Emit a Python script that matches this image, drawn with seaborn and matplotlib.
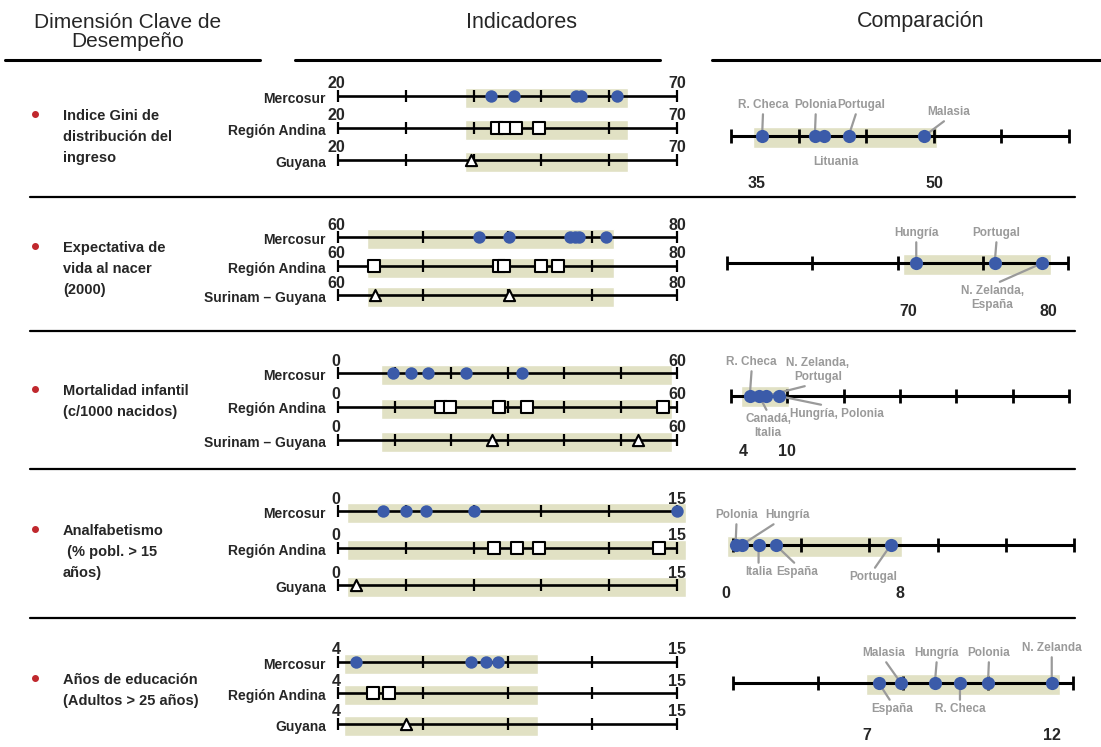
import matplotlib
matplotlib.use("Agg")
import matplotlib.pyplot as plt
import seaborn as sns
from matplotlib.lines import Line2D

sns.set_style("white")
plt.rcParams["font.family"] = ["Liberation Sans", "DejaVu Sans"]

W, H = 1101, 747
BLUE = "#3b5ba9"
BAND = "#e1e1c4"
GRAY = "#9a9a9a"
RED = "#c0282d"

# ---------------- textos ----------------
headers = ["Dimensión Clave de\nDesempeño", "Indicadores", "Comparación"]
dimensions = [
    "Indice Gini de\ndistribución del\ningreso",
    "Expectativa de\nvida al nacer\n(2000)",
    "Mortalidad infantil\n(c/1000 nacidos)",
    "Analfabetismo\n (% pobl. > 15\naños)",
    "Años de educación\n(Adultos > 25 años)",
]

# ---------------- Indicadores ----------------
gini_range = (20, 70)
gini_ticks = [20, 30, 40, 50, 60, 70]
gini_band = (38.8, 62.8)
gini_groups = ["Mercosur", "Región Andina", "Guyana"]
gini_mercosur = [42.6, 45.9, 55.1, 55.8, 61.2]
gini_andina = [43.4, 44.7, 46.2, 49.7]
gini_guyana = [39.6]

vida_range = (60, 80)
vida_ticks = [60, 65, 70, 75, 80]
vida_band = (61.7, 76.3)
vida_groups = ["Mercosur", "Región Andina", "Surinam – Guyana"]
vida_mercosur = [68.3, 70.1, 73.7, 74.0, 74.2, 75.8]
vida_andina = [62.1, 69.5, 69.8, 72.0, 73.0]
vida_guyana = [62.2, 70.1]

mort_range = (0, 60)
mort_ticks = [0, 10, 20, 30, 40, 50, 60]
mort_band = (7.6, 59.1)
mort_groups = ["Mercosur", "Región Andina", "Surinam – Guyana"]
mort_mercosur = [9.8, 13.0, 16.0, 22.7, 32.6]
mort_andina = [18.3, 19.9, 28.5, 33.5, 57.5]
mort_guyana = [27.3, 53.1]

analf_range = (0, 15)
analf_ticks = [0, 3, 6, 9, 12, 15]
analf_band = (0.4, 15.4)
analf_groups = ["Mercosur", "Región Andina", "Guyana"]
analf_mercosur = [2.0, 3.0, 3.9, 6.0, 15.0]
analf_andina = [6.9, 7.9, 8.9, 14.2]
analf_guyana = [0.8]

educ_range = (4, 15)
educ_ticks = [4, 6.75, 9.5, 12.25, 15]
educ_band = (4.2, 10.5)
educ_groups = ["Mercosur", "Región Andina", "Guyana"]
educ_mercosur = [4.6, 8.3, 8.8, 9.2]
educ_andina = [5.15, 5.65]
educ_guyana = [6.2]

# ---------------- Comparación ----------------
gini_cmp_ticks = [35, 40, 45, 50, 55, 60]
gini_cmp_band = (36.6, 50.2)
gini_cmp_labels = [35, 50]
gini_cmp_names = ["R. Checa", "Polonia", "Lituania", "Portugal", "Malasia"]
gini_cmp_values = [37.3, 41.2, 41.9, 43.7, 49.3]

vida_cmp_ticks = [60, 65, 70, 75, 80]
vida_cmp_band = (70.3, 79.0)
vida_cmp_labels = [70, 80]
vida_cmp_names = ["Hungría", "Portugal", "N. Zelanda,\nEspaña"]
vida_cmp_values = [71.1, 75.7, 78.5]

mort_cmp_ticks = [4, 10, 16, 22, 28, 34, 40]
mort_cmp_band = (5.1, 10.2)
mort_cmp_labels = [4, 10]
mort_cmp_names = ["R. Checa", "Canadá,\nItalia", "N. Zelanda,\nPortugal", "Hungría, Polonia"]
mort_cmp_values = [6.0, 7.0, 7.7, 9.1]

analf_cmp_ticks = [0, 4, 8, 12, 16, 20]
analf_cmp_band = (-0.35, 9.9)
analf_cmp_labels = [0, 8]
analf_cmp_names = ["Polonia", "Hungría", "Italia", "España", "Portugal"]
analf_cmp_values = [0.15, 0.5, 1.5, 2.5, 9.25]

educ_cmp_ticks = [4, 6, 8, 10, 12]
educ_cmp_band = (7.13, 11.7)
educ_cmp_labels = [7, 12]
educ_cmp_names = ["España", "Malasia", "Hungría", "R. Checa", "Polonia", "N. Zelanda"]
educ_cmp_values = [7.43, 7.95, 8.75, 9.34, 10.0, 11.5]

# ---------------- layout (pixels) ----------------
ind_x = (338, 677)
ind_rows = [(96, 160), (237, 295), (373, 440), (511, 585), (662, 724)]
cmp_x = [(731, 1069), (727, 1068), (731, 1069), (733, 1074), (733, 1073)]
cmp_y = [136, 263, 396, 545, 683]
cmp_label_dx = [[26, 1], [11, -20], [12, 0], [-7, 31], [6, -21]]
cmp_label_dy = [47, 49, 56, 49, 52]
# offset of each country text from its dot (dx, dy up) and leader anchor
cmp_name_pos = [
    [(1, 31, (0.5, 0)), (1, 31, (0.5, 0)), (12, -26, None), (13, 31, (0.4, 0)), (24, 24, (0.5, 0))],
    [(0, 30, (0.5, 0)), (2, 30, (0.5, 0)), (-50, -35, (0.5, 1))],
    [(2, 34, (0.5, 0)), (9, -30, (0.5, 1)), (52, 26, (0.5, 0)), (58, -18, (0.5, 1))],
    [(1, 30, (0.5, 0)), (46, 30, (0.3, 0)), (0, -27, (0.5, 1)), (22, -27, (0.5, 1)), (-18, -32, (0.5, 1))],
    [(13, -26, (0.5, 1)), (-17, 30, (0.5, 0)), (2, 30, (0.5, 0)), (0, -26, (0.5, 1)), (1, 30, (0.5, 0)), (0, 35, (0.5, 0))],
]
sep_y = [197, 331, 469, 618]
dim_y = [116, 248, 391, 531, 680]

fig = plt.figure(figsize=(W / 100, H / 100), dpi=100)


def px_axes(x0, x1, y0, y1):
    ax = fig.add_axes([x0 / W, 1 - y1 / H, (x1 - x0) / W, (y1 - y0) / H])
    ax.set_axis_off()
    return ax


def hline(x0, x1, y, lw):
    fig.add_artist(Line2D([x0 / W, x1 / W], [1 - y / H] * 2, color="black", lw=lw))


def fmt(v):
    return str(int(v)) if float(v).is_integer() else str(v)


def draw_indicator(k, rng, ticks, band, groups, mercosur, andina, guyana):
    y0, y1 = ind_rows[k]
    ax = px_axes(ind_x[0], ind_x[1], y0, y1)
    row_px = (y1 - y0) / 2
    lo, hi = rng
    for r, name in enumerate(groups):
        ax.barh(r + 2 / row_px, band[1] - band[0], left=band[0], height=20 / row_px,
                color=BAND, zorder=0, clip_on=False)
        ax.hlines(r, lo, hi, color="black", lw=1.9, zorder=2, clip_on=False)
        ax.plot(ticks, [r] * len(ticks), ls="none", marker="|", ms=8, mew=1.6,
                color="black", zorder=2, clip_on=False)
        ax.annotate(fmt(lo), (lo, r), xytext=(-2, 12), textcoords="offset pixels",
                    ha="center", va="center", fontsize=11.5, fontweight="bold")
        ax.annotate(fmt(hi), (hi, r), xytext=(0, 12), textcoords="offset pixels",
                    ha="center", va="center", fontsize=11.5, fontweight="bold")
        ax.annotate(name, (lo, r), xytext=(-12, -3), textcoords="offset pixels",
                    ha="right", va="center", fontsize=10, fontweight="bold")
    sns.scatterplot(x=mercosur, y=[0] * len(mercosur), ax=ax, marker="o", color=BLUE,
                    s=80, linewidth=0, zorder=5, clip_on=False)
    sns.scatterplot(x=andina, y=[1] * len(andina), ax=ax, marker="s", color="white",
                    edgecolor="black", linewidth=1.5, s=80, zorder=5, clip_on=False)
    sns.scatterplot(x=guyana, y=[2] * len(guyana), ax=ax, marker="^", color="white",
                    edgecolor="black", linewidth=1.5, s=65, zorder=5, clip_on=False)
    ax.set_xlim(lo, hi)
    ax.set_ylim(2, 0)
    ax.set_axis_off()


def draw_comparison(k, ticks, band, labels, names, values):
    y = cmp_y[k]
    ax = px_axes(cmp_x[k][0], cmp_x[k][1], y - 15, y + 15)
    lo, hi = ticks[0], ticks[-1]
    ax.barh(1, band[1] - band[0], left=band[0], height=21, color=BAND, zorder=0, clip_on=False)
    ax.hlines(0, lo, hi, color="black", lw=2.2, zorder=2, clip_on=False)
    ax.plot(ticks, [0] * len(ticks), ls="none", marker="|", ms=10, mew=2.0,
            color="black", zorder=2, clip_on=False)
    for v, dx in zip(labels, cmp_label_dx[k]):
        ax.annotate(fmt(v), (v, 0), xytext=(dx, -cmp_label_dy[k]), textcoords="offset pixels",
                    ha="center", va="center", fontsize=11.5, fontweight="bold")
    for name, v, (dx, dy, rel) in zip(names, values, cmp_name_pos[k]):
        arrow = None
        if rel is not None:
            arrow = dict(arrowstyle="-", color=GRAY, lw=1.6, shrinkA=0, shrinkB=0, relpos=rel)
        ax.annotate(name, (v, 0), xytext=(dx, dy), textcoords="offset pixels",
                    ha="center", va="center", fontsize=8.5, fontweight="bold",
                    color=GRAY, multialignment="center", arrowprops=arrow, zorder=3)
    sns.scatterplot(x=values, y=[0] * len(values), ax=ax, marker="o", color=BLUE,
                    s=90, linewidth=0, zorder=5, clip_on=False)
    ax.set_xlim(lo, hi)
    ax.set_ylim(15, -15)
    ax.set_axis_off()


# headers
fig.text(128 / W, 1 - 32 / H, headers[0], ha="center", va="center", fontsize=15, linespacing=1.05)
fig.text(522 / W, 1 - 22 / H, headers[1], ha="center", va="center", fontsize=15.5)
fig.text(921 / W, 1 - 22 / H, headers[2], ha="center", va="center", fontsize=15.5)
hline(5, 260, 60, 2.2)
hline(295, 660, 60, 2.2)
hline(712, 1101, 60, 2.2)
for y in sep_y:
    hline(30, 1075, y, 1.6)

# left column
for text, y in zip(dimensions, dim_y):
    fig.add_artist(Line2D([35 / W], [1 - (y - 2) / H], marker="o", ms=4, color=RED))
    for i, line in enumerate(text.split("\n")):
        fig.text(63 / W, 1 - (y + 21 * i) / H, line, ha="left", va="center",
                 fontsize=10.5, fontweight="bold")

draw_indicator(0, gini_range, gini_ticks, gini_band, gini_groups, gini_mercosur, gini_andina, gini_guyana)
draw_indicator(1, vida_range, vida_ticks, vida_band, vida_groups, vida_mercosur, vida_andina, vida_guyana)
draw_indicator(2, mort_range, mort_ticks, mort_band, mort_groups, mort_mercosur, mort_andina, mort_guyana)
draw_indicator(3, analf_range, analf_ticks, analf_band, analf_groups, analf_mercosur, analf_andina, analf_guyana)
draw_indicator(4, educ_range, educ_ticks, educ_band, educ_groups, educ_mercosur, educ_andina, educ_guyana)

draw_comparison(0, gini_cmp_ticks, gini_cmp_band, gini_cmp_labels, gini_cmp_names, gini_cmp_values)
draw_comparison(1, vida_cmp_ticks, vida_cmp_band, vida_cmp_labels, vida_cmp_names, vida_cmp_values)
draw_comparison(2, mort_cmp_ticks, mort_cmp_band, mort_cmp_labels, mort_cmp_names, mort_cmp_values)
draw_comparison(3, analf_cmp_ticks, analf_cmp_band, analf_cmp_labels, analf_cmp_names, analf_cmp_values)
draw_comparison(4, educ_cmp_ticks, educ_cmp_band, educ_cmp_labels, educ_cmp_names, educ_cmp_values)

fig.savefig("out.png", dpi=100)
